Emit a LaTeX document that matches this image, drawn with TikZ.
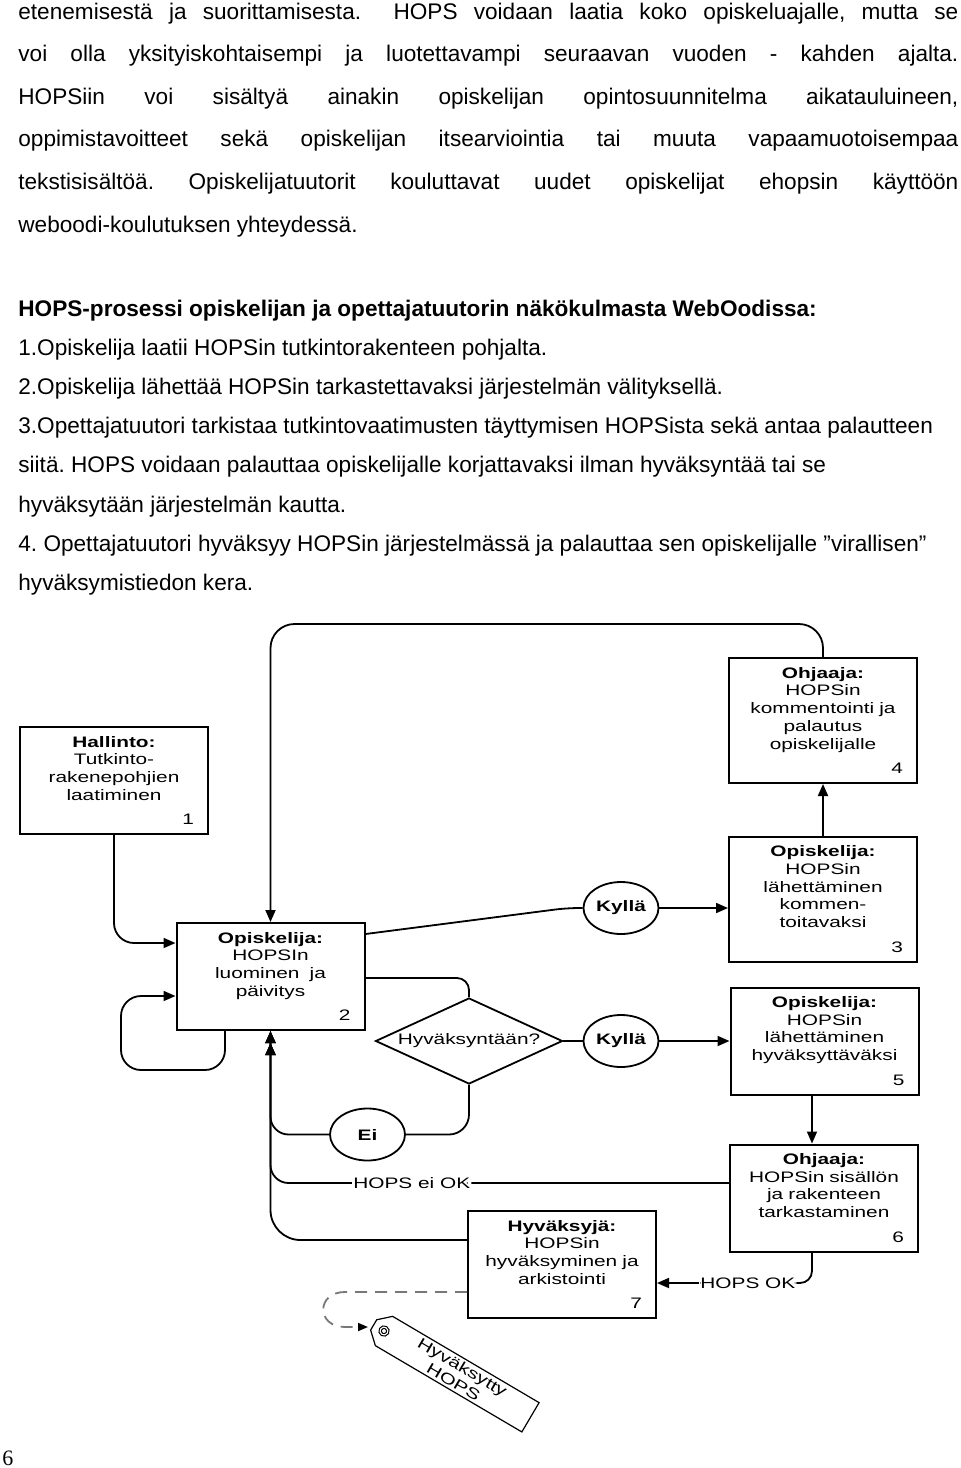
\documentclass[tikz,border=0pt]{standalone}
\usepackage{fontspec}
\setmainfont{Liberation Sans}
\newfontfamily\diafont[FakeStretch=1.37]{Liberation Sans}
\newfontfamily\pagefont{Liberation Serif}
\usetikzlibrary{shapes.geometric, arrows.meta, positioning}
\definecolor{dashgray}{RGB}{120,120,120}
\newcommand{\boxfont}{\diafont\fontsize{7.6}{8.85}\selectfont}
\frenchspacing

\begin{document}
\begin{tikzpicture}[
    x=0.5pt, y=-0.5pt,
    >={Triangle[length=6pt,width=5pt]},
    bodytext/.style={anchor=base west, inner sep=0pt, font=\fontsize{11.3}{13}\selectfont},
    procbox/.style={draw, line width=1pt, fill=white, align=center, text width=80pt,
        inner xsep=7pt, inner ysep=2pt, minimum height=53.5pt, font=\boxfont},
    tallbox/.style={procbox, minimum height=62.5pt},
    answer/.style={draw, ellipse, line width=0.9pt, minimum width=37.5pt,
        minimum height=26pt, inner sep=0pt, font=\boxfont\bfseries},
    decision/.style={draw, diamond, line width=0.9pt, aspect=2.2, minimum width=93.5pt,
        minimum height=43pt, inner sep=0pt, font=\boxfont},
    conn/.style={line width=0.9pt, rounded corners=6pt},
    flow/.style={conn, ->},
    back/.style={conn, -{Triangle[length=6pt,width=5pt] Triangle[length=6pt,width=5pt]}},
    linelabel/.style={fill=white, inner sep=0.6pt, font=\boxfont},
    tagtext/.style={align=center, inner sep=0pt, rotate=-30.5, font=\boxfont}
]
    \fill[white] (0,0) rectangle (960,1468);
    \useasboundingbox (0,0) rectangle (960,1468);

    % body text
    \node[bodytext] (p1) at (18,19)
        {\makebox[470pt][s]{etenemisestä ja suorittamisesta.\ \ HOPS voidaan laatia koko opiskeluajalle, mutta se}};
    \node[bodytext] (p2) at (18,61.5)
        {\makebox[470pt][s]{voi olla yksityiskohtaisempi ja luotettavampi seuraavan vuoden - kahden ajalta.}};
    \node[bodytext] (p3) at (18,104)
        {\makebox[470pt][s]{HOPSiin voi sisältyä ainakin opiskelijan opintosuunnitelma aikatauluineen,}};
    \node[bodytext] (p4) at (18,146.5)
        {\makebox[470pt][s]{oppimistavoitteet sekä opiskelijan itsearviointia tai muuta vapaamuotoisempaa}};
    \node[bodytext] (p5) at (18,189)
        {\makebox[470pt][s]{tekstisisältöä. Opiskelijatuutorit kouluttavat uudet opiskelijat ehopsin käyttöön}};
    \node[bodytext] (p6) at (18,232) {weboodi-koulutuksen yhteydessä.};

    \node[bodytext] (head) at (18,316)
        {\textbf{HOPS-prosessi opiskelijan ja opettajatuutorin näkökulmasta WebOodissa:}};
    \node[bodytext] (l1) at (18,355) {1.Opiskelija laatii HOPSin tutkintorakenteen pohjalta.};
    \node[bodytext] (l2) at (18,394.3) {2.Opiskelija lähettää HOPSin tarkastettavaksi järjestelmän välityksellä.};
    \node[bodytext] (l3) at (18,433.6)
        {3.Opettajatuutori tarkistaa tutkintovaatimusten täyttymisen HOPSista sekä antaa palautteen};
    \node[bodytext] (l3b) at (18,472.9)
        {siitä. HOPS voidaan palauttaa opiskelijalle korjattavaksi ilman hyväksyntää tai se};
    \node[bodytext] (l3c) at (18,512.2) {hyväksytään järjestelmän kautta.};
    \node[bodytext] (l4) at (18,551.5)
        {4. Opettajatuutori hyväksyy HOPSin järjestelmässä ja palauttaa sen opiskelijalle ”virallisen”};
    \node[bodytext] (l4b) at (18,590.8) {hyväksymistiedon kera.};

    % process boxes
    \node[procbox] (admin) at (114,780.5)
        {\textbf{Hallinto:}\\Tutkinto-\\rakenepohjien\\laatiminen\\[3.5pt]\hfill 1};
    \node[procbox] (create) at (270.5,976.5)
        {\textbf{Opiskelija:}\\HOPSIn\\luominen\ \ ja\\päivitys\\[3.5pt]\hfill 2};
    \node[tallbox] (comment) at (823,720.5)
        {\textbf{Ohjaaja:}\\HOPSin\\kommentointi ja\\palautus\\opiskelijalle\\[3.5pt]\hfill 4};
    \node[tallbox] (sendcomment) at (823,899)
        {\textbf{Opiskelija:}\\HOPSin\\lähettäminen\\kommen-\\toitavaksi\\[3.5pt]\hfill 3};
    \node[procbox] (sendapprove) at (824.5,1041)
        {\textbf{Opiskelija:}\\HOPSin\\lähettäminen\\hyväksyttäväksi\\[3.5pt]\hfill 5};
    \node[procbox] (check) at (824,1198)
        {\textbf{Ohjaaja:}\\HOPSin sisällön\\ja rakenteen\\tarkastaminen\\[3.5pt]\hfill 6};
    \node[procbox] (approve) at (562,1264.5)
        {\textbf{Hyväksyjä:}\\HOPSin\\hyväksyminen ja\\arkistointi\\[3.5pt]\hfill 7};

    \node[decision] (decide) at (469,1041) {Hyväksyntään?};
    \node[answer] (yes1) at (621,908) {Kyllä};
    \node[answer] (yes2) at (621,1041) {Kyllä};
    \node[answer] (no) at (367.5,1134.5) {Ei};

    % connectors
    \draw[flow, rounded corners=12pt] (comment.north) |- (create.north |- 0,624) -- (create.north);
    \draw[flow, rounded corners=10pt] (admin.south) |- (create.west |- 0,943);
    \draw[flow, rounded corners=10pt] (225,0 |- create.south) -- (225,1070) -- (121,1070)
        -- (121,996) -- (create.west |- 0,996);
    \draw[conn] (create.east |- 0,934) -- (567,908) -- (yes1.west);
    \draw[flow] (yes1.east) -- (yes1.east -| sendcomment.west);
    \draw[conn] (create.east |- 0,978) -| (decide.north);
    \draw[conn] (decide.east) -- (yes2.west);
    \draw[flow] (yes2.east) -- (sendapprove.west);
    \draw[conn, rounded corners=10pt] (decide.south) |- (no.east);
    \draw[back, rounded corners=9pt] (no.west) -| (create.south);
    \draw[back, rounded corners=9pt] (check.west |- 0,1183) -| (create.south)
        node[linelabel, pos=0.346] {HOPS ei OK};
    \draw[back, rounded corners=15pt] (approve.west |- 0,1240) -| (create.south);
    \draw[flow] (sendcomment.north) -- (comment.south);
    \draw[flow] (812,0 |- sendapprove.south) -- (812,0 |- check.north);
    \draw[flow] (812,0 |- check.south) |- (approve.east |- 0,1283)
        node[linelabel, pos=0.707] {HOPS OK};

    % approved tag
    \coordinate (taghole) at (384,1331);
    \coordinate (tagend) at (368,1327);
    \draw[dashed, dash pattern=on 6pt off 4pt, dashgray, line width=0.9pt,
        -{Triangle[length=5pt,width=4pt,color=black]}]
        (approve.west |- 0,1292) -- (345,1292) .. controls (316,1292) and (316,1327) .. (345,1327) -- (tagend);
    \begin{scope}[shift={(taghole)}, rotate=-30.5]
        \draw[line width=0.6pt] (0,-17) -- (170,-17) -- (170,17) -- (0,17) -- (-12,6) -- (-12,-6) -- cycle;
        \draw[line width=0.5pt] (0,0) circle[radius=2.6pt] (0,0) circle[radius=1.3pt];
        \node[tagtext] (tagname) at (86,0) {Hyväksytty\\HOPS};
    \end{scope}

    \node[anchor=base west, inner sep=0pt, font=\pagefont\fontsize{11}{13}\selectfont] (pagenum) at (2,1465) {6};
\end{tikzpicture}
\end{document}
